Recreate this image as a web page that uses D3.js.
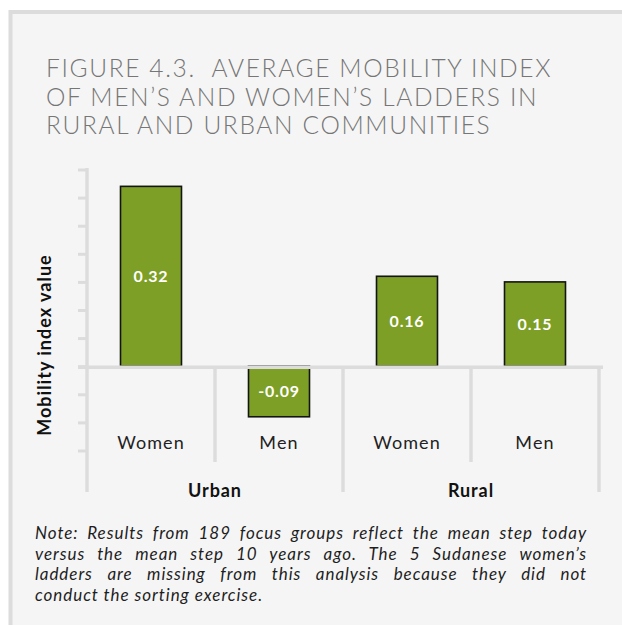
<!DOCTYPE html>
<html>
<head>
<meta charset="utf-8">
<script src="https://cdn.jsdelivr.net/npm/d3@7"></script>
<style>
  html, body { margin: 0; padding: 0; background: #fff; }
  #chart { position: relative; width: 622px; height: 625px; }
  #note {
    position: absolute; left: 35px; top: 523px; width: 552px;
    font-family: "Lato", "Open Sans", sans-serif; font-style: italic;
    font-size: 17px; line-height: 20.5px; color: #1e1e1e; letter-spacing: 0.95px;
  }
  #note div { text-align: justify; text-align-last: justify; white-space: nowrap; }
  #note div.last { text-align-last: left; }
</style>
</head>
<body>
<div id="chart"></div>
<script>
// Datos del gráfico
const groups = ["Urban", "Rural"];
const categories = ["Women", "Men", "Women", "Men"];
const values = [0.32, -0.09, 0.16, 0.15];
const valueLabels = ["0.32", "-0.09", "0.16", "0.15"];
const yTicks = [-0.15, -0.1, -0.05, 0, 0.05, 0.1, 0.15, 0.2, 0.25, 0.3, 0.35];
const titleLines = [
  "FIGURE 4.3.  AVERAGE MOBILITY INDEX",
  "OF MEN\u2019S AND WOMEN\u2019S LADDERS IN",
  "RURAL AND URBAN COMMUNITIES"
];
const noteLines = [
  "Note: Results from 189 focus groups reflect the mean step today",
  "versus the mean step 10 years ago. The 5 Sudanese women\u2019s",
  "ladders are missing from this analysis because they did not",
  "conduct the sorting exercise."
];

const width = 622, height = 625;
const svg = d3.select("#chart").append("svg")
  .attr("width", width).attr("height", height);

// Fondo del panel con borde
svg.append("rect").attr("x", 10.5).attr("y", 12).attr("width", width).attr("height", height)
  .attr("fill", "#f5f5f5").attr("stroke", "#dcdcdc").attr("stroke-width", 4);

// Título
svg.append("g").selectAll("text").data(titleLines).enter().append("text")
  .attr("x", 46).attr("y", (d, i) => 77 + i * 28.5)
  .style("white-space", "pre")
  .attr("font-family", "Lato, sans-serif").attr("font-weight", 300)
  .attr("font-size", 24.5).attr("letter-spacing", 1.65).attr("fill", "#767676")
  .text(d => d);

// Escalas
const x = d3.scaleBand().domain(d3.range(categories.length)).range([87, 599]).paddingInner(0).paddingOuter(0);
const y = d3.scaleLinear().domain([-0.15, 0.35]).range([450.5, 169.5]);
const y0 = y(0);
const grid = "#dcdcdc";

// Eje Y con ticks
const yAxis = svg.append("g").attr("transform", "translate(87,0)")
  .call(d3.axisLeft(y).tickValues(yTicks).tickSize(9).tickFormat(""));
yAxis.select(".domain").remove();
yAxis.selectAll("line").attr("stroke", grid).attr("stroke-width", 3);
svg.append("line").attr("x1", 87).attr("x2", 87).attr("y1", 168).attr("y2", 492)
  .attr("stroke", grid).attr("stroke-width", 3.5);

// Separadores de categorías y grupos
const seps = [1, 2, 3, 4];
svg.append("g").selectAll("line").data(seps).enter().append("line")
  .attr("x1", i => x(0) + i * x.bandwidth()).attr("x2", i => x(0) + i * x.bandwidth())
  .attr("y1", y0).attr("y2", i => i % 2 === 0 ? 492 : 462)
  .attr("stroke", grid).attr("stroke-width", 3.5);

// Barras
const barW = 61;
svg.append("g").selectAll("rect").data(values).enter().append("rect")
  .attr("x", (d, i) => x(i) + (x.bandwidth() - barW) / 2)
  .attr("y", d => y(Math.max(0, d)))
  .attr("width", barW)
  .attr("height", d => Math.abs(y(d) - y0))
  .attr("fill", "#7e9f25").attr("stroke", "#141414").attr("stroke-width", 1.6);

// Línea cero
svg.append("line").attr("x1", 78).attr("x2", 603).attr("y1", y0 + 1).attr("y2", y0 + 1)
  .attr("stroke", grid).attr("stroke-width", 3.5);

// Etiquetas de valor
svg.append("g").selectAll("text").data(values).enter().append("text")
  .attr("x", (d, i) => x(i) + x.bandwidth() / 2)
  .attr("y", d => (y(d) + y0) / 2 + 6)
  .attr("text-anchor", "middle").attr("fill", "#fff")
  .attr("font-family", "Lato, sans-serif").attr("font-weight", 700).attr("font-size", 16)
  .attr("letter-spacing", 0.8)
  .text((d, i) => valueLabels[i]);

// Etiquetas de categoría
svg.append("g").selectAll("text").data(categories).enter().append("text")
  .attr("x", (d, i) => x(i) + x.bandwidth() / 2).attr("y", 449)
  .attr("text-anchor", "middle").attr("fill", "#222")
  .attr("font-family", "Lato, sans-serif").attr("font-size", 18).attr("letter-spacing", 1.1)
  .text(d => d);

// Etiquetas de grupo
svg.append("g").selectAll("text").data(groups).enter().append("text")
  .attr("x", (d, i) => x(i * 2) + x.bandwidth()).attr("y", 497)
  .attr("text-anchor", "middle").attr("fill", "#111")
  .attr("font-family", "Lato, sans-serif").attr("font-weight", 700).attr("font-size", 18)
  .attr("letter-spacing", 0.9)
  .text(d => d);

// Título del eje Y
svg.append("text")
  .attr("transform", "translate(51,345) rotate(-90)")
  .attr("text-anchor", "middle").attr("fill", "#111")
  .attr("font-family", "Lato, sans-serif").attr("font-weight", 700).attr("font-size", 18)
  .attr("letter-spacing", 1)
  .text("Mobility index value");

// Nota
d3.select("#chart").append("div").attr("id", "note")
  .selectAll("div").data(noteLines).enter().append("div")
  .attr("class", (d, i) => i === noteLines.length - 1 ? "last" : null)
  .text(d => d);
</script>
</body>
</html>
